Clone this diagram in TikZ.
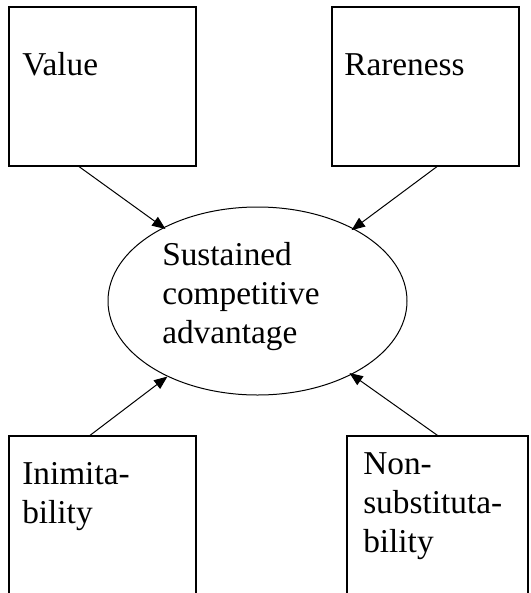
\documentclass[tikz,border=0pt]{standalone}
\usepackage{fontspec}
\setmainfont{Liberation Serif}
\usetikzlibrary{arrows.meta}
\usetikzlibrary{shapes.geometric}
\usetikzlibrary{positioning}

\tikzset{
  box/.style={rectangle, draw, line width=0.9pt, minimum width=140.25pt, minimum height=119.25pt, inner sep=0pt},
  lowbox/.style={box, minimum height=123pt},
  goal/.style={ellipse, draw, line width=0.75pt, minimum width=224.25pt, minimum height=141pt, inner sep=0pt},
  txt/.style={font=\fontsize{25pt}{29.25pt}\selectfont, align=left, inner sep=0pt},
  link/.style={-{Triangle[length=10pt,width=8pt]}, line width=0.75pt},
}

\begin{document}
\begin{tikzpicture}[x=0.75pt, y=-0.75pt]
    \clip (0,0) rectangle (531,593);

    % the four resource attributes
    \node[box] (value) at (102.5,86.5) {};
    \node[box] (rare) at (425.5,86.5) {};
    \node[lowbox] (inimit) at (102.5,518) {};
    \node[lowbox, minimum width=135.75pt] (nonsub) at (437.5,518) {};
    \node[goal] (sca) at (257.5,301) {};

    % texts (anchored at the baseline of their last line)
    \node[txt, anchor=base west] (valuet) at (22,75) {Value};
    \node[txt, anchor=base west] (raret) at (344,75) {Rareness};
    \node[txt, anchor=base west] (inimitt) at (22,523) {Inimita-\\bility};
    \node[txt, anchor=base west] (nonsubt) at (363,552) {Non-\\substituta-\\bility};
    \node[txt, anchor=base west] (scat) at (162,343) {Sustained\\competitive\\advantage};

    % arrows into the ellipse
    \draw[link, shorten >=-2pt] ([xshift=-17.6pt]value.south) -- (sca.142.6);
    \draw[link, shorten >=-2pt] ([xshift=8.6pt]rare.south) -- (sca.37.4);
    \draw[link] ([xshift=-9.4pt]inimit.north) -- (sca.220.3);
    \draw[link, shorten >=-2pt] (nonsub.north) -- (sca.322.9);
\end{tikzpicture}
\end{document}
